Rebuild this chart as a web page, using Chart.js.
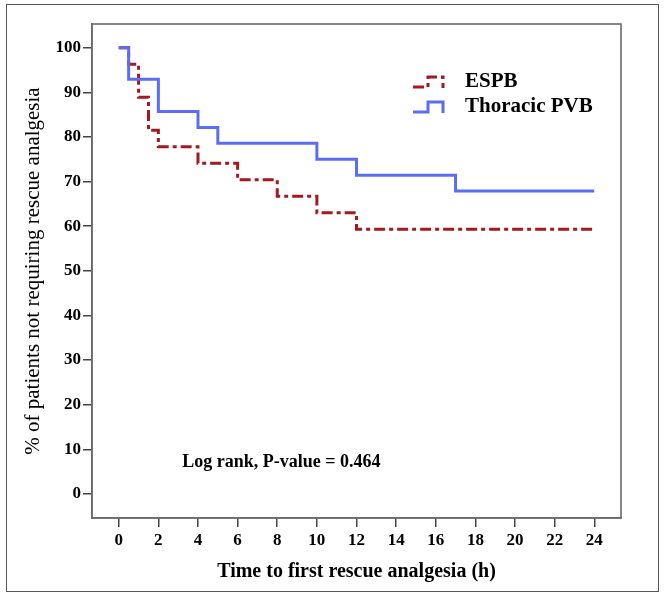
<!DOCTYPE html>
<html>
<head>
<meta charset="utf-8">
<script src="https://cdn.jsdelivr.net/npm/chart.js@4/dist/chart.umd.min.js"></script>
<style>
  html, body { margin: 0; padding: 0; background: #fff; }
  #wrap { position: relative; width: 666px; height: 595px; }
  #frame { position: absolute; left: 6px; top: 4px; width: 653px; height: 588px;
           border: 1.5px solid #555; box-sizing: border-box; pointer-events: none; }
</style>
</head>
<body>
<div id="wrap">
  <canvas id="kmChart" width="666" height="595"></canvas>
  <div id="frame"></div>
</div>
<script>
// Kaplan-Meier steps (time in hours, % without rescue)
const espbTimes = [0, 0.5, 1, 1.5, 2, 4, 6, 8, 10, 12, 24];
const espbValues = [100, 96.3, 88.9, 81.5, 77.8, 74.1, 70.4, 66.7, 63.0, 59.3, 59.3];
const pvbTimes = [0, 0.5, 2, 4, 5, 10, 12, 17, 24];
const pvbValues = [100, 92.9, 85.7, 82.1, 78.6, 75.0, 71.4, 67.9, 67.9];

const xTicks = [0, 2, 4, 6, 8, 10, 12, 14, 16, 18, 20, 22, 24];
const yTicks = [0, 10, 20, 30, 40, 50, 60, 70, 80, 90, 100];

const seriesLabels = ['ESPB', 'Thoracic PVB'];
const logRankText = 'Log rank, P-value = 0.464';

const serif = "'Liberation Serif', 'Times New Roman', serif";
const RED = '#a3191e';
const BLUE = '#5b6df2';

function points(xs, ys) {
  return xs.map((x, i) => ({ x: x, y: ys[i] }));
}

// frame around the plot area
const framePlugin = {
  id: 'plotFrame',
  afterDraw(chart) {
    const { ctx, chartArea: a } = chart;
    ctx.save();
    ctx.strokeStyle = '#6a6a6a';
    ctx.lineWidth = 1.6;
    ctx.strokeRect(a.left, a.top, a.right - a.left, a.bottom - a.top);
    ctx.restore();
  }
};

// legend with the little step glyphs, plus the log-rank note
const notesPlugin = {
  id: 'notes',
  afterDraw(chart) {
    const { ctx } = chart;
    const xs = chart.scales.x, ys = chart.scales.y;
    ctx.save();
    const rows = [0, 1].map(i => chart.data.datasets.find(d => d.label === seriesLabels[i]));
    rows.forEach((ds, i) => {
      const cy = 82 + i * 25;
      const x0 = 413;
      ctx.strokeStyle = ds.borderColor;
      ctx.lineWidth = 3;
      ctx.setLineDash(ds.borderDash || []);
      ctx.beginPath();
      ctx.moveTo(x0, cy + 5);
      ctx.lineTo(x0 + 15, cy + 5);
      ctx.lineTo(x0 + 15, cy - 5);
      ctx.lineTo(x0 + 30, cy - 5);
      ctx.lineTo(x0 + 30, cy + 6);
      ctx.stroke();
      ctx.setLineDash([]);
      ctx.fillStyle = '#000';
      ctx.font = 'bold 21px ' + serif;
      ctx.textBaseline = 'middle';
      ctx.textAlign = 'left';
      ctx.fillText(ds.label, 465, cy);
    });
    ctx.font = 'bold 18px ' + serif;
    ctx.textBaseline = 'middle';
    ctx.fillStyle = '#000';
    ctx.fillText(logRankText, xs.getPixelForValue(3.2), ys.getPixelForValue(7));
    ctx.restore();
  }
};

const ctx = document.getElementById('kmChart').getContext('2d');
new Chart(ctx, {
  type: 'line',
  data: {
    datasets: [
      {
        label: seriesLabels[1],
        data: points(pvbTimes, pvbValues),
        borderColor: BLUE,
        borderWidth: 3,
        stepped: 'before',
        pointRadius: 0,
        fill: false,
        order: 0
      },
      {
        label: seriesLabels[0],
        data: points(espbTimes, espbValues),
        borderColor: RED,
        borderWidth: 3,
        borderDash: [11, 4, 4, 4],
        stepped: 'before',
        pointRadius: 0,
        fill: false,
        order: 1
      }
    ]
  },
  options: {
    responsive: false,
    animation: false,
    layout: { padding: { left: 0, top: 24, right: 45, bottom: 0 } },
    plugins: {
      legend: { display: false },
      tooltip: { enabled: false }
    },
    scales: {
      x: {
        type: 'linear',
        min: -1.35,
        max: 25.35,
        afterBuildTicks: s => { s.ticks = xTicks.map(v => ({ value: v })); },
        afterFit: s => { s.height = 77; },
        grid: { drawOnChartArea: false, drawTicks: true, tickLength: 9, color: '#444', lineWidth: 1.5 },
        border: { display: true, color: '#6a6a6a', width: 1.6 },
        ticks: { color: '#000', font: { family: serif, size: 17, weight: 'bold' }, padding: 3, maxRotation: 0 },
        title: {
          display: true,
          text: 'Time to first rescue analgesia (h)',
          color: '#000',
          font: { family: serif, size: 20, weight: 'bold' },
          padding: { top: 0, bottom: 11 }
        }
      },
      y: {
        type: 'linear',
        min: -5.4,
        max: 105.3,
        afterBuildTicks: s => { s.ticks = yTicks.map(v => ({ value: v })); },
        afterFit: s => { s.width = 92; },
        grid: { drawOnChartArea: false, drawTicks: true, tickLength: 9, color: '#444', lineWidth: 1.5 },
        border: { display: true, color: '#6a6a6a', width: 1.6 },
        ticks: { color: '#000', font: { family: serif, size: 17, weight: 'bold' }, padding: 2 },
        title: {
          display: true,
          text: '% of patients not requiring rescue analgesia',
          color: '#000',
          font: { family: serif, size: 21, weight: 'normal' },
          padding: { top: 21, bottom: 0 }
        }
      }
    }
  },
  plugins: [framePlugin, notesPlugin]
});
</script>
</body>
</html>
